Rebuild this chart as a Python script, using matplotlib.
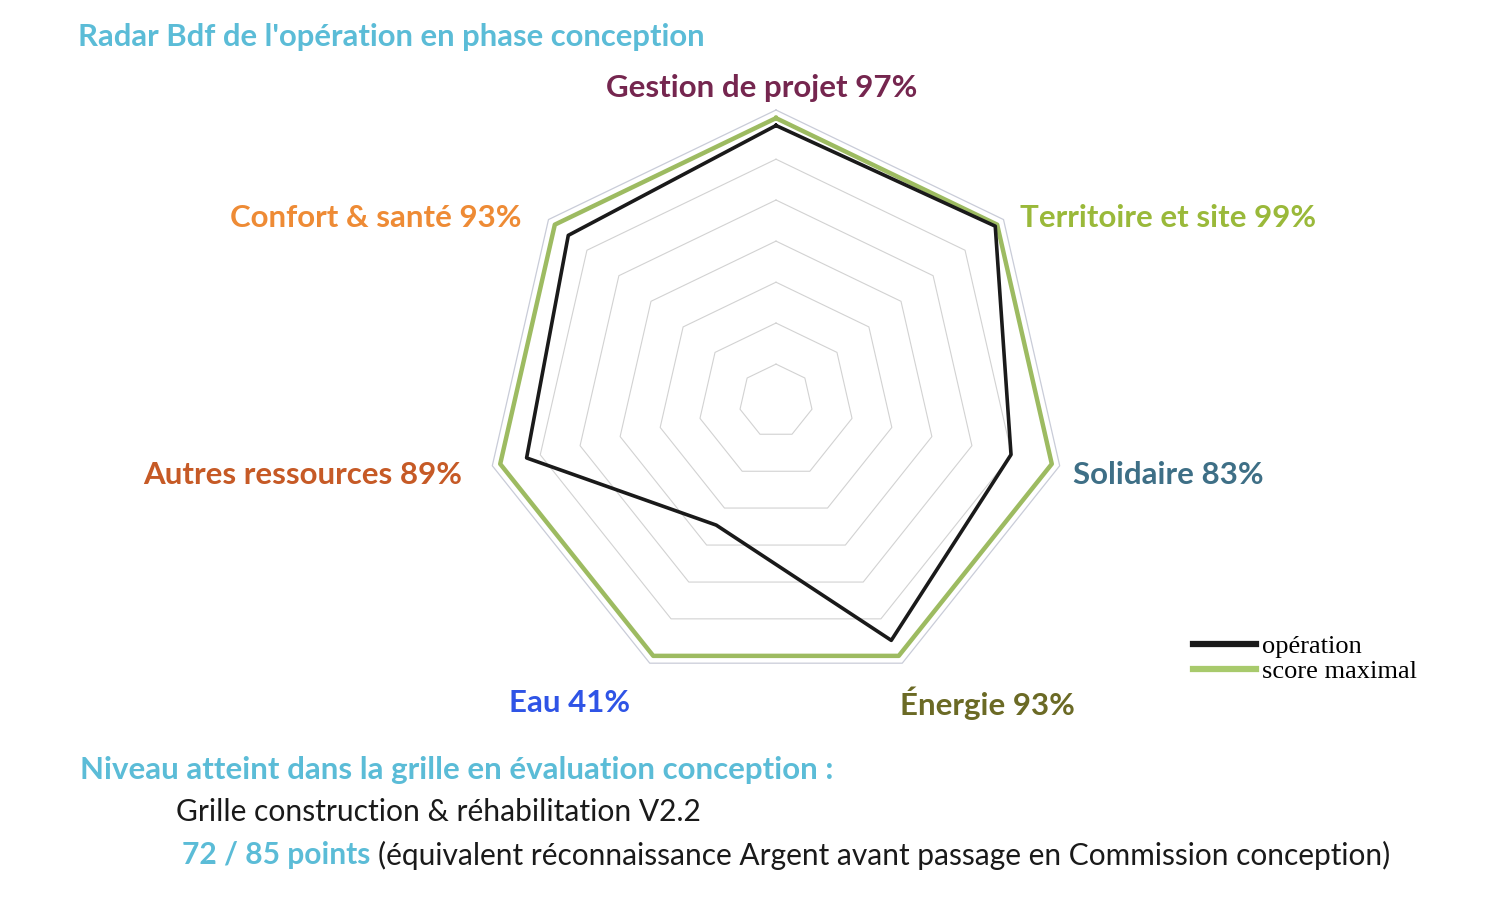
import numpy as np
import matplotlib
matplotlib.use("Agg")
from matplotlib import pyplot as plt

# data
categories = ["Gestion de projet", "Territoire et site", "Solidaire", "Énergie",
              "Eau", "Autres ressources", "Confort & santé"]
operation = [97, 99, 83, 93, 41, 89, 93]
score_max = [100, 100, 100, 100, 100, 100, 100]
ring_levels = [0, 16.7, 33.3, 50, 66.7, 83.3]
label_colors = ["#75264f", "#9ab93a", "#3e6f86", "#6b6a25",
                "#2f54e6", "#c65a26", "#ee8b35"]

plt.rcParams['font.family'] = ['Lato', 'DejaVu Sans']

W, H = 1488, 916
fig = plt.figure(figsize=(W / 100, H / 100), dpi=100)

# polar axes centred at (776, 401) px, outer radius 291 px
cx, cy, R = 776, 401, 291
ax = fig.add_axes([(cx - R) / W, (H - cy - R) / H, 2 * R / W, 2 * R / H],
                  projection='polar')
ax.set_theta_offset(np.pi / 2)
ax.set_theta_direction(-1)
ax.set_ylim(-15, 103.3)
ax.grid(False)
ax.set_xticks([])
ax.set_yticks([])
for sp in ax.spines.values():
    sp.set_visible(False)
ax.patch.set_visible(False)

n = len(categories)
theta = np.linspace(0, 2 * np.pi, n, endpoint=False)
theta_c = np.append(theta, theta[0])

def closed(vals):
    return np.append(vals, vals[0])

for lvl in ring_levels:
    ax.plot(theta_c, [lvl] * (n + 1), color="#d2d2d2", lw=0.8, zorder=1)
ax.plot(theta_c, [103.3] * (n + 1), color="#c9ccd8", lw=0.9, zorder=1,
        clip_on=False)

l_max, = ax.plot(theta_c, closed(score_max), color="#9dbb61", lw=3.2, zorder=2,
                 label="score maximal")
l_op, = ax.plot(theta_c, closed(operation), color="#1a1a1a", lw=2.6, zorder=3,
                label="opération")

# category labels (pixel positions)
lab_pos = [(762, 88, 'center'), (1020, 218, 'left'), (1073, 475, 'left'),
           (987, 703, 'center'), (570, 703, 'center'), (462, 475, 'right'),
           (522, 218, 'right')]
for cat, val, col, (x, y, ha) in zip(categories, operation, label_colors, lab_pos):
    fig.text(x / W, 1 - y / H, f"{cat} {val}%", color=col, fontsize=22.5,
             fontweight='bold', ha=ha, va='center')

fig.text(78 / W, 1 - 37 / H, "Radar Bdf de l'opération en phase conception",
         color="#5bbcd7", fontsize=22.3, fontweight='bold', ha='left', va='center')

leg = fig.legend(handles=[l_op, l_max], loc='center left',
                 bbox_to_anchor=(1193 / W, 1 - 659 / H), frameon=False,
                 handlelength=2.4, handletextpad=0.22, labelspacing=0.06,
                 borderpad=0, borderaxespad=0,
                 prop={'family': 'Liberation Serif', 'size': 19})
for ln in leg.get_lines():
    ln.set_linewidth(4.5)
leg.get_lines()[1].set_color("#a8ca6c")

fig.text(80 / W, 1 - 770 / H,
         "Niveau atteint dans la grille en évaluation conception :",
         color="#5bbcd7", fontsize=22.5, fontweight='bold', ha='left', va='center')
fig.text(176 / W, 1 - 812 / H, "Grille construction & réhabilitation V2.2",
         color="#1a1a1a", fontsize=21.6, ha='left', va='center')
t = fig.text(182 / W, 1 - 855 / H, "72 / 85 points", color="#5bbcd7",
             fontsize=21.6, fontweight='bold', ha='left', va='center')
fig.canvas.draw()
bb = t.get_window_extent()
fig.text((bb.x1 + 8) / W, 1 - 855 / H,
         "(équivalent réconnaissance Argent avant passage en Commission conception)",
         color="#1a1a1a", fontsize=21.5, ha='left', va='center')

fig.savefig("out.png", dpi=100, facecolor='white')
